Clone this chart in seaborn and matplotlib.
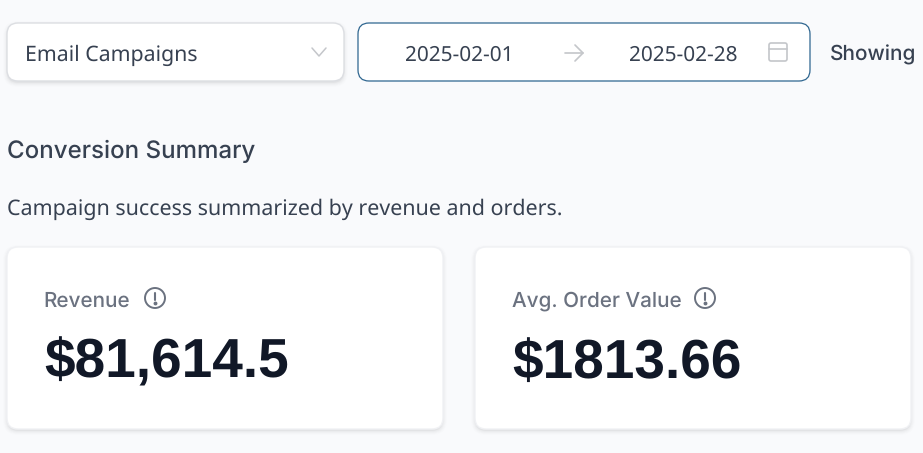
import matplotlib
matplotlib.use('Agg')
import matplotlib.pyplot as plt
from matplotlib.patches import FancyBboxPatch, Circle
import seaborn as sns

# textos de la pantalla
filtro = 'Email Campaigns'
fecha_inicio = '2025-02-01'
fecha_fin = '2025-02-28'
mostrando = 'Showing'
titulo = 'Conversion Summary'
subtitulo = 'Campaign success summarized by revenue and orders.'
metricas = ['Revenue', 'Avg. Order Value']
valores = ['$81,614.5', '$1813.66']

FONDO = '#f9fafc'
OSCURO = '#374151'
GRIS = '#6b7280'
CLARO = '#c4c6ca'
NEGRO = '#111827'
AZUL = '#2f6690'

sns.set_theme(style='white', rc={'figure.facecolor': FONDO, 'axes.facecolor': FONDO})
plt.rcParams['font.family'] = ['Inter', 'DejaVu Sans']
plt.rcParams['text.hinting'] = 'none'
plt.rcParams['text.hinting_factor'] = 1

fig = plt.figure(figsize=(9.23, 4.53), dpi=100)
ax = fig.add_axes([0, 0, 1, 1])
ax.set_xlim(0, 923)
ax.set_ylim(453, 0)
ax.axis('off')

NOTO = ['Noto Sans', 'DejaVu Sans']
LIBERATION = ['Liberation Sans', 'DejaVu Sans']


def px(tam):
    return tam * 0.72


def caja(x, y, w, h, r, borde, sombra=True, lw=1.0):
    if sombra:
        for i, alfa in [(4, 0.008), (3, 0.01), (2, 0.014), (1, 0.02), (0, 0.035)]:
            ax.add_patch(FancyBboxPatch((x + r, y + r + 2), w - 2 * r, h - 2 * r,
                                        boxstyle=f'round,pad={r + i},rounding_size={r + i}',
                                        fc='black', ec='none', alpha=alfa))
    ax.add_patch(FancyBboxPatch((x + r, y + r), w - 2 * r, h - 2 * r,
                                boxstyle=f'round,pad={r},rounding_size={r}',
                                fc='white', ec=borde, lw=lw))


def texto(x, y, s, tam, color, peso='normal', ha='left', familia=None):
    ax.text(x, y, s, fontsize=px(tam), color=color, fontweight=peso, ha=ha,
            va='center_baseline', family=familia or ['Inter', 'DejaVu Sans'])


def icono_info(x, y):
    ax.add_patch(Circle((x, y), 10, fc='none', ec=GRIS, lw=1.4))
    ax.plot([x, x], [y - 5.5, y + 1.5], color=GRIS, lw=1.5, solid_capstyle='round')
    ax.plot([x], [y + 5], marker='o', ms=1.8, color=GRIS)


# selector
caja(7, 23, 337, 58, 11, '#dcdee2')
texto(25, 53, filtro, 21.3, OSCURO, familia=NOTO)
ax.plot([312, 319, 326], [48, 56, 48], color=CLARO, lw=1.1)

# rango de fechas
caja(358, 23, 452, 58, 11, AZUL, sombra=False, lw=0.9)
texto(459.5, 53, fecha_inicio, 20.8, OSCURO, ha='center', familia=NOTO)
texto(683, 53, fecha_fin, 20.8, OSCURO, ha='center', familia=NOTO)
ax.plot([565, 583], [53, 53], color=CLARO, lw=1.2)
ax.plot([575, 583, 575], [45, 53, 61], color=CLARO, lw=1.2)
ax.add_patch(FancyBboxPatch((769, 43), 18, 18, boxstyle='round,pad=0,rounding_size=2',
                            fc='none', ec=CLARO, lw=1.2))
ax.plot([769, 787], [48.5, 48.5], color=CLARO, lw=1.2)
texto(829.5, 53, mostrando, 20.8, OSCURO, peso='medium')

# encabezado
texto(7, 148.5, titulo, 24.1, OSCURO, peso='medium')
texto(7, 207, subtitulo, 21.45, OSCURO, familia=NOTO)

# tarjetas
for x0, x_icono, nombre, valor in zip([7, 475], [155, 705], metricas, valores):
    caja(x0, 247, 436, 182, 11, '#f0f1f4')
    texto(x0 + 36.5, 299, nombre, 20.7, GRIS, peso='medium')
    icono_info(x_icono, 298)
    texto(x0 + 37, 357.5, valor, 55.3, NEGRO, peso='bold', familia=LIBERATION)

fig.savefig('out.png', dpi=100, facecolor=FONDO)
